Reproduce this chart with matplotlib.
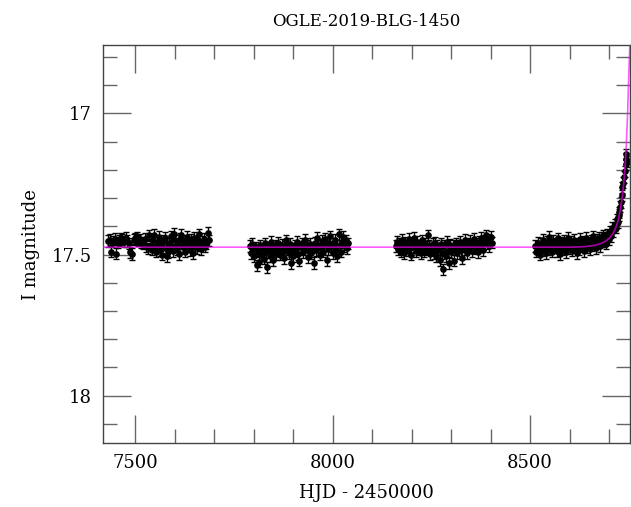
# plot.py

import numpy as np
import matplotlib
matplotlib.use("Agg")
import matplotlib.pyplot as plt
from matplotlib.ticker import MultipleLocator

TITLE = "OGLE-2019-BLG-1450"
X_LABEL = "HJD - 2450000"
Y_LABEL = "I magnitude"

# season 1
t1 = [7432, 7436, 7440, 7444, 7448, 7452, 7456, 7460, 7464, 7468, 7472, 7476,
      7480, 7484, 7488, 7492, 7496, 7500, 7504, 7508, 7512, 7516, 7520, 7524,
      7528, 7532, 7536, 7539, 7542, 7545, 7548, 7551, 7554, 7557, 7560, 7563,
      7566, 7569, 7572, 7575, 7578, 7581, 7584, 7587, 7590, 7593, 7596, 7599,
      7602, 7605, 7608, 7611, 7614, 7617, 7620, 7623, 7626, 7629, 7632, 7635,
      7638, 7641, 7644, 7647, 7650, 7653, 7656, 7659, 7662, 7665, 7668, 7671,
      7674, 7677, 7680, 7684, 7688]
m1 = [17.452, 17.448, 17.490, 17.455, 17.445, 17.497, 17.458, 17.450, 17.442,
      17.447, 17.455, 17.440, 17.452, 17.460, 17.492, 17.498, 17.448, 17.443,
      17.440, 17.451, 17.446, 17.458, 17.462, 17.445, 17.470, 17.478, 17.432,
      17.465, 17.483, 17.448, 17.430, 17.472, 17.490, 17.455, 17.438, 17.485,
      17.468, 17.500, 17.452, 17.440, 17.478, 17.505, 17.492, 17.460, 17.435,
      17.470, 17.488, 17.426, 17.450, 17.482, 17.466, 17.498, 17.445, 17.430,
      17.475, 17.460, 17.490, 17.452, 17.438, 17.470, 17.485, 17.448, 17.462,
      17.495, 17.440, 17.458, 17.478, 17.450, 17.428, 17.468, 17.482, 17.455,
      17.445, 17.472, 17.460, 17.422, 17.450]

# season 2
t2 = [7790, 7793, 7796, 7799, 7802, 7805, 7808, 7811, 7814, 7817, 7820, 7823,
      7826, 7829, 7832, 7835, 7838, 7841, 7844, 7847, 7850, 7853, 7856, 7859,
      7862, 7865, 7868, 7871, 7874, 7877, 7880, 7883, 7886, 7889, 7892, 7895,
      7898, 7901, 7904, 7907, 7910, 7913, 7916, 7919, 7922, 7925, 7928, 7931,
      7934, 7937, 7940, 7943, 7946, 7949, 7952, 7955, 7958, 7961, 7964, 7967,
      7970, 7973, 7976, 7979, 7982, 7985, 7988, 7991, 7994, 7997, 8000, 8003,
      8006, 8009, 8012, 8015, 8018, 8021, 8024, 8027, 8030, 8033, 8036, 8039]
m2 = [17.470, 17.495, 17.462, 17.480, 17.505, 17.475, 17.538, 17.490, 17.525,
      17.468, 17.500, 17.482, 17.515, 17.460, 17.492, 17.545, 17.475, 17.505,
      17.455, 17.488, 17.520, 17.470, 17.498, 17.478, 17.458, 17.485, 17.500,
      17.465, 17.490, 17.512, 17.472, 17.450, 17.482, 17.495, 17.462, 17.530,
      17.478, 17.505, 17.468, 17.488, 17.455, 17.498, 17.522, 17.475, 17.460,
      17.492, 17.482, 17.448, 17.470, 17.510, 17.488, 17.462, 17.495, 17.475,
      17.530, 17.458, 17.485, 17.440, 17.470, 17.500, 17.478, 17.452, 17.490,
      17.468, 17.445, 17.520, 17.480, 17.458, 17.435, 17.472, 17.495, 17.462,
      17.448, 17.480, 17.505, 17.428, 17.468, 17.490, 17.455, 17.438, 17.470,
      17.450, 17.478, 17.460]

# season 3
t3 = [8160, 8163, 8166, 8169, 8172, 8175, 8178, 8181, 8184, 8187, 8190, 8193,
      8196, 8199, 8202, 8205, 8208, 8211, 8214, 8217, 8220, 8223, 8226, 8229,
      8232, 8235, 8238, 8241, 8244, 8247, 8250, 8253, 8256, 8259, 8262, 8265,
      8268, 8271, 8274, 8277, 8280, 8283, 8286, 8289, 8292, 8295, 8298, 8301,
      8304, 8307, 8310, 8313, 8316, 8319, 8322, 8325, 8328, 8331, 8334, 8337,
      8340, 8343, 8346, 8349, 8352, 8355, 8358, 8361, 8364, 8367, 8370, 8373,
      8376, 8379, 8382, 8385, 8388, 8391, 8394, 8397, 8400, 8403]
m3 = [17.470, 17.455, 17.480, 17.462, 17.490, 17.448, 17.475, 17.495, 17.458,
      17.470, 17.485, 17.445, 17.478, 17.500, 17.462, 17.440, 17.472, 17.488,
      17.455, 17.480, 17.468, 17.495, 17.450, 17.475, 17.490, 17.460, 17.482,
      17.432, 17.470, 17.498, 17.478, 17.462, 17.495, 17.458, 17.505, 17.470,
      17.482, 17.520, 17.462, 17.495, 17.552, 17.470, 17.505, 17.455, 17.488,
      17.530, 17.465, 17.492, 17.470, 17.522, 17.480, 17.460, 17.495, 17.470,
      17.455, 17.485, 17.512, 17.468, 17.448, 17.480, 17.495, 17.462, 17.475,
      17.452, 17.488, 17.470, 17.445, 17.478, 17.460, 17.492, 17.455, 17.472,
      17.440, 17.465, 17.485, 17.450, 17.432, 17.462, 17.448, 17.470, 17.438,
      17.458]

# season 4 (with the rise)
t4 = [8513, 8516, 8519, 8522, 8525, 8528, 8531, 8534, 8537, 8540, 8543, 8546,
      8549, 8552, 8555, 8558, 8561, 8564, 8567, 8570, 8573, 8576, 8579, 8582,
      8585, 8588, 8591, 8594, 8597, 8600, 8603, 8606, 8609, 8612, 8615, 8618,
      8621, 8624, 8627, 8630, 8633, 8636, 8639, 8642, 8645, 8648, 8651, 8654,
      8657, 8660, 8663, 8666, 8669, 8672, 8675, 8678, 8681, 8684, 8687, 8690,
      8693, 8696, 8699, 8702, 8705, 8708, 8711, 8714, 8717, 8720, 8722, 8724,
      8726, 8728, 8730, 8732, 8734, 8736, 8738, 8740, 8742, 8743, 8744, 8745]
m4 = [17.470, 17.490, 17.458, 17.478, 17.500, 17.462, 17.485, 17.448, 17.472,
      17.495, 17.455, 17.480, 17.438, 17.468, 17.490, 17.452, 17.475, 17.460,
      17.488, 17.442, 17.470, 17.498, 17.458, 17.480, 17.450, 17.472, 17.492,
      17.462, 17.440, 17.478, 17.455, 17.485, 17.468, 17.448, 17.475, 17.495,
      17.460, 17.482, 17.445, 17.470, 17.455, 17.488, 17.462, 17.440, 17.475,
      17.458, 17.480, 17.450, 17.468, 17.435, 17.462, 17.478, 17.448, 17.458,
      17.440, 17.470, 17.452, 17.432, 17.455, 17.440, 17.462, 17.428, 17.445,
      17.420, 17.435, 17.405, 17.418, 17.395, 17.405, 17.375, 17.385, 17.350,
      17.360, 17.330, 17.315, 17.290, 17.262, 17.245, 17.225, 17.205, 17.180,
      17.160, 17.145, 17.170]

MAG_ERR = 0.02

# model curve
model_t = [7418, 8600, 8640, 8665, 8680, 8692, 8702, 8710, 8717, 8723, 8728,
           8733, 8737, 8741, 8744, 8747, 8750, 8753]
model_m = [17.474, 17.474, 17.472, 17.467, 17.461, 17.452, 17.440, 17.425,
           17.405, 17.380, 17.345, 17.300, 17.250, 17.180, 17.100, 17.000,
           16.860, 16.740]


def plot():
    plt.rcParams["font.family"] = ["DejaVu Serif"]
    fig = plt.figure(figsize=(6.31, 5.07), dpi=100)
    ax = fig.add_axes([0.1628, 0.1256, 0.8356, 0.7854])

    for t, m in [(t1, m1), (t2, m2), (t3, m3), (t4, m4)]:
        ax.errorbar(t, m, yerr=MAG_ERR, fmt="o", color="black", ms=3.8,
                    elinewidth=1.0, capsize=2.4, capthick=1.0, zorder=2)

    ax.plot(model_t, model_m, color="#ff00ff", lw=1.2, alpha=0.65, zorder=3)

    ax.set_xlim(7418, 8753)
    ax.set_ylim(18.169, 16.758)
    ax.xaxis.set_major_locator(MultipleLocator(500))
    ax.xaxis.set_minor_locator(MultipleLocator(100))
    ax.yaxis.set_major_locator(MultipleLocator(0.5))
    ax.yaxis.set_minor_locator(MultipleLocator(0.1))
    ax.yaxis.set_major_formatter(plt.FuncFormatter(
        lambda v, p: f"{v:g}"))

    ax.tick_params(which="both", direction="in", top=True, right=True,
                   color="#666666", width=1.0, labelsize=13, pad=8)
    ax.tick_params(which="major", length=20)
    ax.tick_params(which="minor", length=10)
    for s in ax.spines.values():
        s.set_color("#444444")
        s.set_linewidth(1.0)

    ax.set_title(TITLE, fontsize=12, pad=14)
    ax.set_xlabel(X_LABEL, fontsize=13, labelpad=8)
    ax.set_ylabel(Y_LABEL, fontsize=13, labelpad=8)

    fig.savefig("out.png", dpi=100)


def main():
    plot()


if __name__ == "__main__":
    main()
